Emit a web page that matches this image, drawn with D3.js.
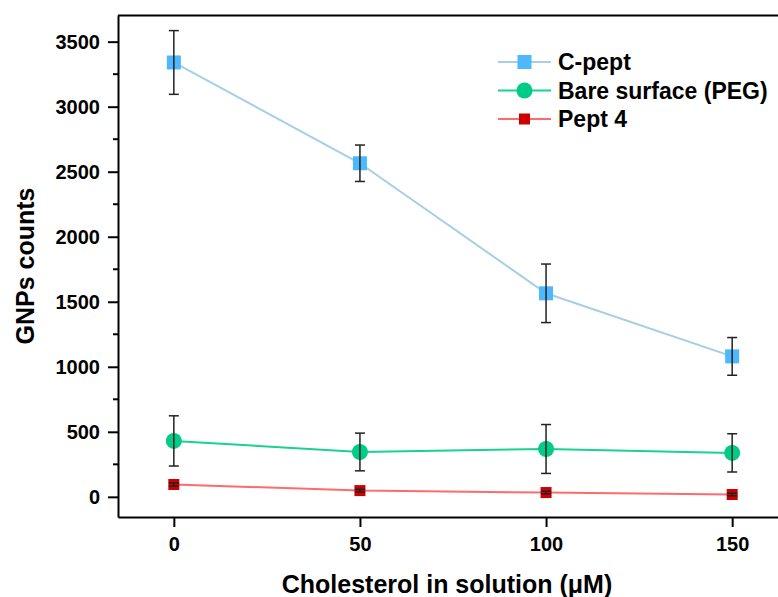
<!DOCTYPE html>
<html>
<head>
<meta charset="utf-8">
<style>
body { margin: 0; background: #fff; }
svg text { font-family: "Liberation Sans", Arial, sans-serif; font-weight: bold; }
</style>
</head>
<body>
<svg width="778" height="597"></svg>
<script src="https://d3js.org/d3.v7.min.js"></script>
<script>
// concentrations (uM)
var conc = [0, 50, 100, 150];

// series values and error bars
var cpept = [3340, 2565, 1565, 1080];
var cpeptErr = [245, 140, 225, 145];
var bare = [430, 345, 368, 338];
var bareErr = [193, 145, 188, 147];
var pept4 = [95, 48, 33, 18];
var pept4Err = [12, 10, 10, 10];

var seriesNames = ["C-pept", "Bare surface (PEG)", "Pept 4"];
var yTicks = [0, 500, 1000, 1500, 2000, 2500, 3000, 3500];

var svg = d3.select("svg");

var x = d3.scaleLinear().domain([-15, 165]).range([118, 788]);
var y = d3.scaleLinear().domain([-155, 3705]).range([517, 15]);

var series = [
  {name: seriesNames[0], vals: cpept, err: cpeptErr, line: "#a6cfe3", fill: "#4db8fc", shape: "square", size: 14},
  {name: seriesNames[1], vals: bare, err: bareErr, line: "#19d196", fill: "#00cc88", shape: "circle", size: 16},
  {name: seriesNames[2], vals: pept4, err: pept4Err, line: "#ff6b6b", fill: "#cc0000", shape: "square", size: 11}
];

// frame top
svg.append("line").attr("x1", 118).attr("x2", 778).attr("y1", 15.5).attr("y2", 15.5)
  .attr("stroke", "#000").attr("stroke-width", 2);

// y axis
var yAxis = svg.append("g").attr("transform", "translate(118,0)")
  .call(d3.axisLeft(y).tickValues(yTicks).tickFormat(d3.format("d")).tickSize(10).tickPadding(8).tickSizeOuter(0));
yAxis.select(".domain").attr("stroke-width", 2);
yAxis.selectAll(".tick line").attr("stroke-width", 2);
yAxis.selectAll("text").style("font-size", "20px").attr("fill", "#000");
// minor ticks
svg.append("g").selectAll("line")
  .data(d3.range(250, 3750, 500))
  .enter().append("line")
  .attr("x1", 113).attr("x2", 118)
  .attr("y1", function(d) { return y(d); }).attr("y2", function(d) { return y(d); })
  .attr("stroke", "#000").attr("stroke-width", 2);

// x axis
var xAxis = svg.append("g").attr("transform", "translate(0,517)")
  .call(d3.axisBottom(x).tickValues(conc).tickSize(10).tickPadding(10).tickSizeOuter(0));
xAxis.select(".domain").attr("stroke-width", 2);
xAxis.selectAll(".tick line").attr("stroke-width", 2);
xAxis.selectAll("text").style("font-size", "20px").attr("fill", "#000");

// titles
svg.append("text").attr("x", 447).attr("y", 593).attr("text-anchor", "middle")
  .style("font-size", "25px").text("Cholesterol in solution (\u03bcM)");
svg.append("text").attr("transform", "translate(34,266) rotate(-90)").attr("text-anchor", "middle")
  .style("font-size", "25px").text("GNPs counts");

var line = d3.line().x(function(d, i) { return x(conc[i]); }).y(function(d) { return y(d); });

series.forEach(function(s) {
  var g = svg.append("g");
  g.append("path").datum(s.vals).attr("d", line)
    .attr("fill", "none").attr("stroke", s.line).attr("stroke-width", 2);
  s.vals.forEach(function(v, i) {
    var cx = x(conc[i]), cy = y(v);
    if (s.shape == "square") {
      g.append("rect").attr("x", cx - s.size / 2).attr("y", cy - s.size / 2)
        .attr("width", s.size).attr("height", s.size).attr("fill", s.fill);
    } else {
      g.append("circle").attr("cx", cx).attr("cy", cy).attr("r", s.size / 2).attr("fill", s.fill);
    }
    var top = y(v + s.err[i]), bot = y(v - s.err[i]);
    g.append("line").attr("x1", cx).attr("x2", cx).attr("y1", top).attr("y2", bot)
      .attr("stroke", "#222").attr("stroke-width", 1.5);
    [top, bot].forEach(function(yy) {
      g.append("line").attr("x1", cx - 5).attr("x2", cx + 5).attr("y1", yy).attr("y2", yy)
        .attr("stroke", "#222").attr("stroke-width", 1.5);
    });
  });
});

// legend
var leg = svg.append("g").attr("transform", "translate(498,62)");
series.forEach(function(s, i) {
  var row = leg.append("g").attr("transform", "translate(0," + (i * 28.5) + ")");
  row.append("line").attr("x1", 0).attr("x2", 53).attr("stroke", s.line).attr("stroke-width", 2);
  if (s.shape == "square") {
    row.append("rect").attr("x", 26.5 - s.size / 2).attr("y", -s.size / 2)
      .attr("width", s.size).attr("height", s.size).attr("fill", s.fill);
  } else {
    row.append("circle").attr("cx", 26.5).attr("r", s.size / 2).attr("fill", s.fill);
  }
  row.append("text").attr("x", 60).attr("y", 8).style("font-size", "23px").text(s.name);
});
</script>
</body>
</html>
